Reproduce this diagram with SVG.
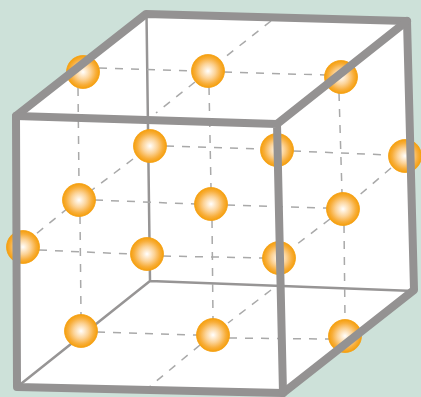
<svg xmlns="http://www.w3.org/2000/svg" width="421" height="397" viewBox="0 0 421 397">
<style>
.thin{fill:none;stroke:#979595;stroke-width:2.5}
.thick{fill:none;stroke:#949292;stroke-width:8;stroke-linejoin:round;stroke-linecap:round}
.dash{fill:none;stroke:#a9a9a9;stroke-width:1.5;stroke-dasharray:8 8}
.atom{fill:url(#g);stroke:#f5a010;stroke-width:0.8}
</style>
<defs>
<radialGradient id="g" cx="0.5" cy="0.5" r="0.5">
<stop offset="0" stop-color="#ffffff"/>
<stop offset="0.12" stop-color="#fff3e2"/>
<stop offset="0.45" stop-color="#fcd397"/>
<stop offset="0.78" stop-color="#f8ae3a"/>
<stop offset="1" stop-color="#f59f0c"/>
</radialGradient>
</defs>
<rect id="background" width="421" height="397" fill="#cde1d9"/>
<polygon id="cube-face" points="16,116 146,14 407,21 414,290 283,393 17,387" fill="#fff"/>
<g id="connectors">
<path class="thin" d="M146.500 14L150 281M150 281L17 387M150 281L414 291"/>
<path class="dash" d="M99 68L192 71M224 72L325 75M166 146L261 149M293 151L389 155M95 200L195 204M227 205L327 208M39 250L131 254M163 256L263 258M97 332L197 335M229 338L329 339"/>
<path class="dash" d="M78 88L79 184M80 216L81 315M209 87L211 188M212 220L213 319M339 93L342 193M344 225L345 320"/>
<path class="dash" d="M271 21L224 58M195 82L156 113M133 159L92 190M68 208L36 234M391 168L356 198M330 219L292 248M271 290L228 323M200 345L148 388"/>
</g>
<g id="n1"><circle class="atom" cx="83" cy="72" r="16.500"/></g>
<g id="n2"><circle class="atom" cx="208" cy="71" r="16.500"/></g>
<g id="n3"><circle class="atom" cx="341" cy="77" r="16.500"/></g>
<g id="n4"><circle class="atom" cx="150" cy="146" r="16.500"/></g>
<g id="n5"><circle class="atom" cx="277" cy="150" r="16.500"/></g>
<g id="n6"><circle class="atom" cx="405" cy="156" r="16.500"/></g>
<g id="n7"><circle class="atom" cx="79" cy="200" r="16.500"/></g>
<g id="n8"><circle class="atom" cx="211" cy="204" r="16.500"/></g>
<g id="n9"><circle class="atom" cx="343" cy="209" r="16.500"/></g>
<g id="n10"><circle class="atom" cx="23" cy="247" r="16.500"/></g>
<g id="n11"><circle class="atom" cx="147" cy="254" r="16.500"/></g>
<g id="n12"><circle class="atom" cx="279" cy="258" r="16.500"/></g>
<g id="n13"><circle class="atom" cx="81" cy="331" r="16.500"/></g>
<g id="n14"><circle class="atom" cx="213" cy="335" r="16.500"/></g>
<g id="n15"><circle class="atom" cx="345" cy="336" r="16.500"/></g>
<g id="cube-edges">
<path class="thick" d="M16 116L146 14L407 21L414 290L283 393L17 387Z"/>
<path class="thick" d="M16 116L277 124L407 21M277 124L283 393"/>
</g>
</svg>
